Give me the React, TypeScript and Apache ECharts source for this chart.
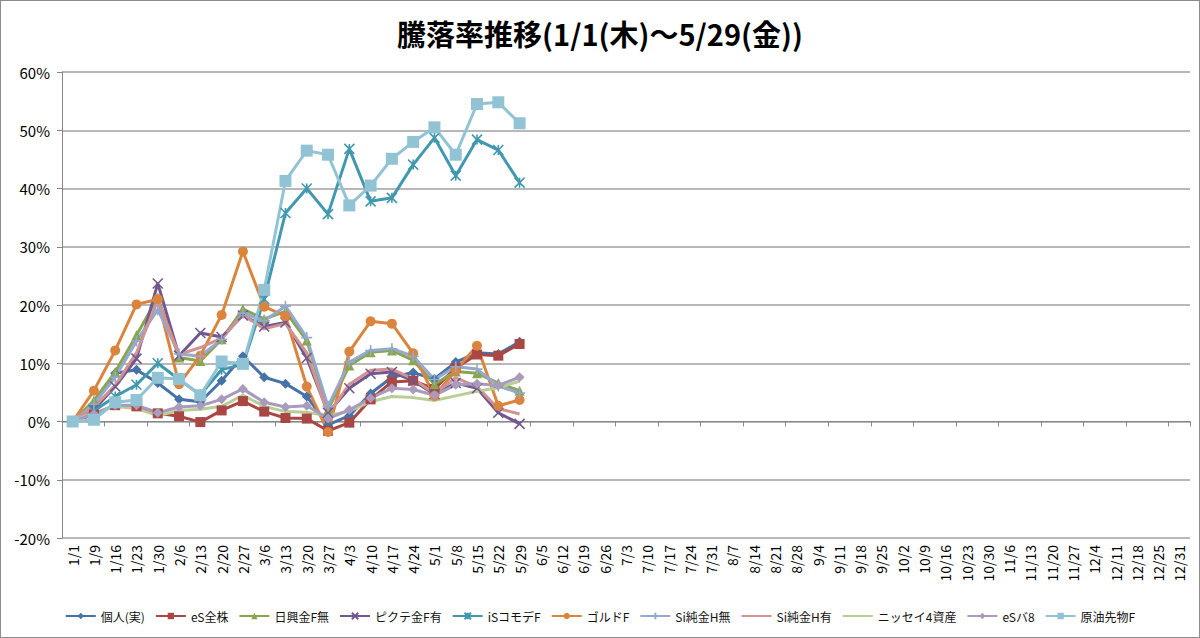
import React, { useEffect, useRef } from 'react';
import * as echarts from 'echarts';

// Weekly dates (x axis) - full year, data only up to 5/29
const categories = [
  '1/1', '1/9', '1/16', '1/23', '1/30', '2/6', '2/13', '2/20', '2/27', '3/6', '3/13', '3/20', '3/27',
  '4/3', '4/10', '4/17', '4/24', '5/1', '5/8', '5/15', '5/22', '5/29', '6/5', '6/12', '6/19', '6/26',
  '7/3', '7/10', '7/17', '7/24', '7/31', '8/7', '8/14', '8/21', '8/28', '9/4', '9/11', '9/18', '9/25',
  '10/2', '10/9', '10/16', '10/23', '10/30', '11/6', '11/13', '11/20', '11/27', '12/4', '12/11',
  '12/18', '12/25', '12/31',
];

// Return rates in percent
const kojin = [0, 3.0, 8.3, 8.9, 6.6, 3.8, 3.4, 7.0, 11.2, 7.6, 6.5, 4.3, -0.6, 1.0, 4.8, 7.6, 8.4, 7.3, 10.2, 11.8, 11.6, 13.7];
const esZenkabu = [0, 1.2, 2.8, 2.6, 1.4, 0.9, -0.1, 1.9, 3.5, 1.7, 0.6, 0.5, -1.6, -0.2, 3.8, 6.8, 7.0, 5.6, 9.2, 11.5, 11.3, 13.3];
const nikkoGold = [0, 3.6, 8.5, 14.8, 21.3, 11.0, 10.4, 14.1, 19.3, 17.6, 18.9, 13.9, 2.0, 9.6, 11.9, 12.2, 10.5, 6.4, 8.6, 8.3, 6.6, 5.3];
const pictetGold = [0, 2.0, 6.0, 10.8, 23.7, 11.3, 15.2, 14.5, 18.2, 16.3, 17.0, 10.9, 1.5, 5.7, 8.2, 8.5, 7.0, 4.7, 6.6, 5.7, 1.5, -0.4];
const isCommodity = [0, 1.8, 4.3, 6.3, 10.0, 7.2, 4.6, 8.9, 9.8, 21.0, 35.8, 40.0, 35.6, 46.8, 37.8, 38.4, 44.1, 48.7, 42.2, 48.4, 46.6, 41.0];
const goldF = [0, 5.3, 12.2, 20.1, 21.0, 6.4, 11.3, 18.3, 29.2, 19.7, 18.1, 6.0, -1.8, 12.0, 17.2, 16.8, 11.7, 4.4, 8.8, 13.0, 2.7, 3.7];
const siGoldNoHedge = [0, 3.0, 7.6, 13.8, 19.2, 11.6, 11.2, 14.1, 18.6, 17.3, 19.8, 14.4, 2.6, 10.2, 12.2, 12.5, 11.2, 7.2, 9.4, 9.0, 6.1, 4.9];
const siGoldHedge = [0, 2.5, 6.2, 11.8, 20.8, 11.5, 12.7, 14.3, 18.3, 15.9, 16.8, 11.8, 1.2, 6.4, 8.8, 9.0, 7.3, 4.8, 7.5, 6.0, 2.2, 1.3];
const nissay4 = [0, 1.5, 2.6, 2.2, 1.0, 1.9, 2.1, 2.6, 4.5, 2.6, 1.7, 1.6, 1.0, 1.8, 3.4, 4.3, 4.1, 3.6, 4.4, 5.2, 5.8, 6.9];
const esBalance8 = [0, 1.3, 2.8, 2.8, 1.5, 2.5, 2.7, 3.8, 5.6, 3.3, 2.5, 2.7, 0.5, 2.0, 4.0, 5.7, 5.5, 4.5, 6.3, 6.5, 6.2, 7.6];
const crudeOil = [0, 0.3, 3.3, 3.7, 7.5, 7.3, 4.5, 10.3, 9.9, 22.6, 41.3, 46.5, 45.8, 37.1, 40.5, 45.1, 48.0, 50.5, 45.8, 54.5, 54.8, 51.2];

const FONT = '"Noto Sans CJK JP", "Noto Sans", sans-serif';

// open-path markers, drawn with the border stroke
const X_MARK = 'path://M0,0L10,10M10,0L0,10';
const STAR_MARK = 'path://M5,0L5,10M0,0L10,10M10,0L0,10';
const PLUS_MARK = 'path://M0,5L10,5M5,0L5,10';

type SeriesDef = {
  name: string;
  data: number[];
  color: string;
  symbol: string;
  size: number;
  stroke?: boolean;
};

const seriesDefs: SeriesDef[] = [
  { name: '個人(実)', data: kojin, color: '#4572A7', symbol: 'diamond', size: 10 },
  { name: 'eS全株', data: esZenkabu, color: '#AA4643', symbol: 'rect', size: 10 },
  { name: '日興金F無', data: nikkoGold, color: '#89A54E', symbol: 'triangle', size: 10 },
  { name: 'ピクテ金F有', data: pictetGold, color: '#71588F', symbol: X_MARK, size: 10, stroke: true },
  { name: 'iSコモデF', data: isCommodity, color: '#4198AF', symbol: STAR_MARK, size: 10, stroke: true },
  { name: 'ゴルドF', data: goldF, color: '#DB843D', symbol: 'circle', size: 10 },
  { name: 'Si純金H無', data: siGoldNoHedge, color: '#93A9CF', symbol: PLUS_MARK, size: 11, stroke: true },
  { name: 'Si純金H有', data: siGoldHedge, color: '#D19392', symbol: 'none', size: 0 },
  { name: 'ニッセイ4資産', data: nissay4, color: '#B9CD96', symbol: 'none', size: 0 },
  { name: 'eSバ8', data: esBalance8, color: '#A99BBD', symbol: 'diamond', size: 10 },
  { name: '原油先物F', data: crudeOil, color: '#91C3D5', symbol: 'rect', size: 12 },
];

const App: React.FC = () => {
  const chartRef = useRef<HTMLDivElement>(null);

  useEffect(() => {
    if (!chartRef.current) return () => {};
    const chart = echarts.init(chartRef.current, null, { renderer: 'svg' });

    const option: any = {
      animation: false,
      backgroundColor: '#fff',
      textStyle: { fontFamily: FONT },
      title: {
        text: '騰落率推移(1/1(木)～5/29(金))',
        left: 'center',
        top: 12,
        textStyle: { fontFamily: FONT, fontSize: 29, fontWeight: 'bold', color: '#000' },
      },
      legend: {
        left: 'center',
        top: 604,
        itemWidth: 30,
        itemHeight: 8,
        itemGap: 10,
        textStyle: { fontFamily: FONT, fontSize: 12, color: '#111' },
        // line-only series get no marker in the legend
        data: seriesDefs.map((s) =>
          s.symbol === 'none' ? { name: s.name, itemStyle: { opacity: 0 } } : { name: s.name }
        ),
      },
      grid: { left: 61, right: 9, top: 71, bottom: 99, containLabel: false },
      xAxis: [
        {
          // axis line + ticks at 0%
          type: 'category',
          data: categories,
          axisLine: { onZero: true, lineStyle: { color: '#868686', width: 1 } },
          axisTick: { show: true, length: 5, lineStyle: { color: '#868686' } },
          axisLabel: { show: false },
          splitLine: { show: false },
        },
        {
          // labels at the bottom of the plot
          type: 'category',
          data: categories,
          position: 'bottom',
          axisLine: { show: false, onZero: false },
          axisTick: { show: false },
          axisLabel: {
            interval: 0,
            rotate: 90,
            margin: 7,
            fontFamily: FONT,
            fontSize: 14,
            color: '#000',
          },
        },
      ],
      yAxis: {
        type: 'value',
        min: -20,
        max: 60,
        interval: 10,
        axisLine: { show: true, lineStyle: { color: '#868686' } },
        axisTick: { show: true, length: 5, lineStyle: { color: '#868686' } },
        axisLabel: { formatter: '{value}%', fontFamily: FONT, fontSize: 15, color: '#000', margin: 12 },
        splitLine: { lineStyle: { color: '#A0A0A0', width: 1.5 } },
      },
      series: seriesDefs.map((s) => ({
        name: s.name,
        type: 'line',
        xAxisIndex: 0,
        data: s.data,
        symbol: s.symbol,
        symbolSize: s.size,
        showSymbol: s.symbol !== 'none',
        lineStyle: { color: s.color, width: 3 },
        itemStyle: s.stroke
          ? { color: s.color, borderColor: s.color, borderWidth: 1.6 }
          : { color: s.color, borderColor: s.color, borderWidth: 0 },
      })),
    };

    chart.setOption(option);
    return () => {
      chart.dispose();
    };
  }, []);

  return (
    <div
      style={{
        position: 'absolute',
        left: 0,
        top: 0,
        width: 1200,
        height: 638,
        boxSizing: 'border-box',
        border: '1px solid #8c8c8c',
        background: '#fff',
      }}
    >
      <div ref={chartRef} style={{ width: 1198, height: 636 }} />
    </div>
  );
};

export default App;
